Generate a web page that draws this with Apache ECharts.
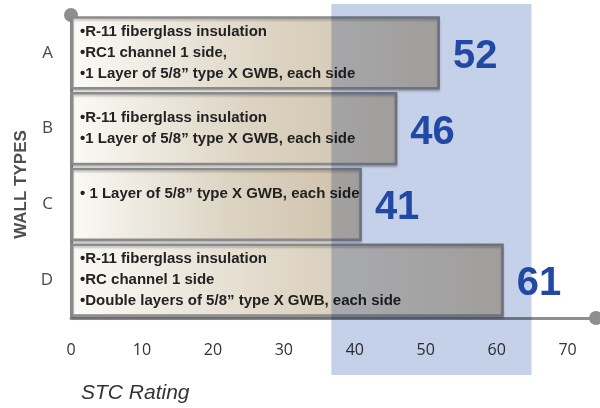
<!DOCTYPE html>
<html>
<head>
<meta charset="utf-8">
<style>
  html, body { margin: 0; padding: 0; background: #fff; }
  #main { width: 600px; height: 408px; }
</style>
<script src="https://cdn.jsdelivr.net/npm/echarts@6/dist/echarts.min.js"></script>
</head>
<body>
<div id="main"></div>
<script>
// wall types, top to bottom
const categories = ['A', 'B', 'C', 'D'];
const stcValues = [52, 46, 41, 61];
const descriptions = [
  '•R-11 fiberglass insulation\n•RC1 channel 1 side,\n•1 Layer of 5/8” type X GWB, each side',
  '•R-11 fiberglass insulation\n•1 Layer of 5/8” type X GWB, each side',
  '• 1 Layer of 5/8” type X GWB, each side\n ',
  '•R-11 fiberglass insulation\n•RC channel 1 side\n•Double layers of 5/8” type X GWB, each side'
];
// shaded STC range behind 40-60
const bandRange = [36.7, 64.9];

const narrow = '"Liberation Sans Narrow", "Liberation Sans", sans-serif';
const axisGray = '#8e8e8e';

var chart = echarts.init(document.getElementById('main'));

var option = {
  backgroundColor: '#fff',
  animation: false,
  title: {
    text: 'STC Rating',
    left: 76,
    top: 378,
    textStyle: {
      fontFamily: narrow,
      fontStyle: 'italic',
      fontWeight: 'normal',
      fontSize: 21,
      color: '#333'
    }
  },
  grid: {
    left: 71,
    right: 4,
    top: 15,
    bottom: 90,
    containLabel: false
  },
  xAxis: {
    type: 'value',
    min: 0,
    max: 74,
    interval: 10,
    splitLine: { show: false },
    axisTick: { show: false },
    axisLine: {
      show: true,
      symbol: ['none', 'circle'],
      symbolSize: [14, 14],
      lineStyle: { color: axisGray, width: 3 }
    },
    axisLabel: {
      showMaxLabel: false,
      margin: 24,
      fontFamily: '"Open Sans", sans-serif',
      fontSize: 16,
      color: '#333'
    }
  },
  yAxis: {
    type: 'category',
    inverse: true,
    data: categories,
    name: 'WALL TYPES',
    nameLocation: 'middle',
    nameRotate: 90,
    nameGap: 32,
    nameTextStyle: {
      fontFamily: '"Liberation Sans", sans-serif',
      fontWeight: 'bold',
      fontSize: 17,
      color: '#4f4f4f',
      padding: [0, 36, 0, 0]
    },
    axisTick: { show: false },
    axisLine: {
      show: true,
      symbol: ['none', 'circle'],
      symbolSize: [14, 14],
      lineStyle: { color: axisGray, width: 3 }
    },
    axisLabel: {
      margin: 18,
      fontFamily: '"Open Sans", sans-serif',
      fontSize: 17,
      color: '#4a4a4a'
    }
  },
  series: [
    {
      name: 'walls',
      type: 'bar',
      z: 2,
      barCategoryGap: '3%',
      data: stcValues,
      itemStyle: {
        color: new echarts.graphic.LinearGradient(0, 0, 1, 0, [
          { offset: 0, color: '#fbfaf6' },
          { offset: 0.55, color: '#dcd3c2' },
          { offset: 1, color: '#cfc1aa' }
        ]),
        borderColor: '#8a8a8a',
        borderWidth: 2.5,
        shadowColor: 'rgba(0,0,0,0.2)',
        shadowOffsetY: 2,
        shadowBlur: 2
      },
      label: {
        show: true,
        position: 'insideLeft',
        distance: 9,
        formatter: function (p) { return descriptions[p.dataIndex]; },
        fontFamily: narrow,
        fontWeight: 'bold',
        fontSize: 15,
        lineHeight: 21,
        color: '#222'
      }
    },
    {
      name: 'stc',
      type: 'bar',
      z: 4,
      barGap: '-100%',
      barCategoryGap: '3%',
      silent: true,
      data: stcValues,
      itemStyle: { color: 'rgba(0,0,0,0)' },
      label: {
        show: true,
        position: 'right',
        distance: 13,
        offset: [0, 4],
        formatter: '{c}',
        fontFamily: narrow,
        fontWeight: 'bold',
        fontSize: 40,
        color: '#2148a3'
      }
    }
  ]
};

chart.setOption(option);

// blue band, placed from the x scale and multiplied over the bars
var x0 = chart.convertToPixel({ xAxisIndex: 0 }, bandRange[0]);
var x1 = chart.convertToPixel({ xAxisIndex: 0 }, bandRange[1]);
chart.setOption({
  graphic: [{
    type: 'rect',
    z: 3,
    silent: true,
    shape: { x: x0, y: 4, width: x1 - x0, height: 371 },
    style: { fill: '#c5d0e9', blend: 'multiply' }
  }]
});
</script>
</body>
</html>
